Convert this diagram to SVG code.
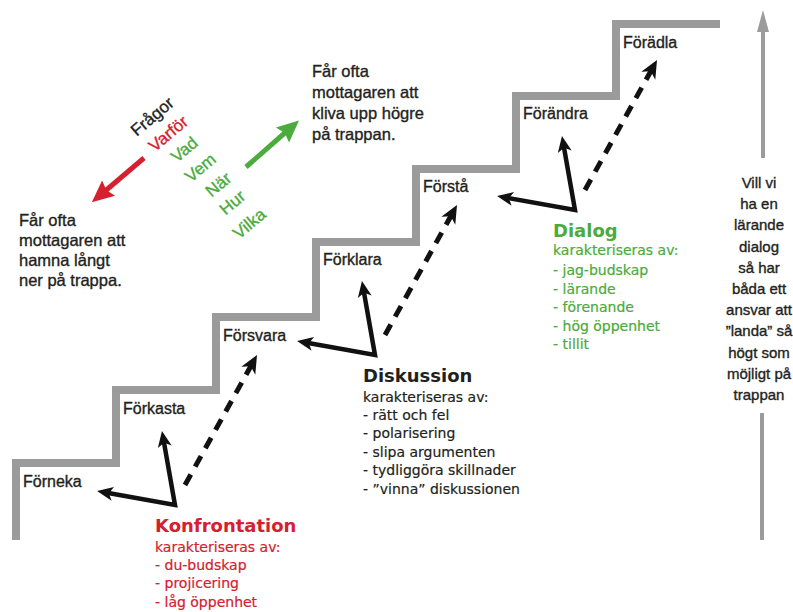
<svg xmlns="http://www.w3.org/2000/svg" width="793" height="612" viewBox="0 0 793 612">
<style>
.stair{fill:none;stroke:#9b9b9b;stroke-width:8;stroke-linejoin:miter}
.lbl{font-family:"Liberation Sans",Arial,sans-serif;font-size:16px;fill:#231f20;stroke:#231f20;stroke-width:0.35}
.desc{font-family:"Liberation Sans",Arial,sans-serif;font-size:16.5px;fill:#231f20;stroke:#231f20;stroke-width:0.35}
.side{font-family:"Liberation Sans",Arial,sans-serif;font-size:15px;fill:#231f20;stroke:#231f20;stroke-width:0.35;text-anchor:middle}
.q{font-family:"Liberation Sans",Arial,sans-serif;font-size:17px;text-anchor:middle;stroke-width:0.35}
.title{font-family:"DejaVu Sans",Verdana,sans-serif;font-size:18px;font-weight:bold}
.item{font-family:"DejaVu Sans",Verdana,sans-serif;font-size:14px;stroke-width:0.2}
.red{fill:#d5202f;stroke:#d5202f}.green{fill:#4bab3c;stroke:#4bab3c}.blk{fill:#231f20;stroke:#231f20}
.title.red,.title.green,.title.blk{stroke:none}
.sol{fill:none;stroke:#111;stroke-width:4.5;stroke-linejoin:miter;marker-start:url(#ah);marker-end:url(#ah)}
.dash{fill:none;stroke:#111;stroke-width:5;stroke-dasharray:12 9;marker-end:url(#ahd)}
</style>
<defs>
<marker id="ah" markerUnits="userSpaceOnUse" markerWidth="20" markerHeight="16" refX="6" refY="7" orient="auto-start-reverse" overflow="visible">
<path d="M0,0 L16,7 L0,14 L4,7 Z" fill="#111"/>
</marker>
<marker id="ahd" markerUnits="userSpaceOnUse" markerWidth="22" markerHeight="18" refX="6" refY="8" orient="auto" overflow="visible">
<path d="M0,0 L18,8 L0,16 L5,8 Z" fill="#111"/>
</marker>
<marker id="ahr" markerUnits="userSpaceOnUse" markerWidth="26" markerHeight="22" refX="6" refY="10" orient="auto" overflow="visible">
<path d="M0,0 L22,10 L0,20 L3,10 Z" fill="#d5202f"/>
</marker>
<marker id="ahg" markerUnits="userSpaceOnUse" markerWidth="26" markerHeight="22" refX="6" refY="10" orient="auto" overflow="visible">
<path d="M0,0 L22,10 L0,20 L3,10 Z" fill="#4bab3c"/>
</marker>
<marker id="ahgr" markerUnits="userSpaceOnUse" markerWidth="16" markerHeight="14" refX="4" refY="6" orient="auto" overflow="visible">
<path d="M0,0 L22,6 L0,12 Z" fill="#9b9b9b"/>
</marker>
</defs>
<rect width="793" height="612" fill="#fff"/>

<g id="staircase">
<path class="stair" d="M16,540 V463 H116 V390 H216 V317 H316 V242 H416 V169 H516 V96 H616 V24 H720"/>
</g>

<g id="steps">
<g id="step-forneka"><text class="lbl" x="23" y="487">Förneka</text></g>
<g id="step-forkasta"><text class="lbl" x="123" y="414">Förkasta</text></g>
<g id="step-forsvara"><text class="lbl" x="223" y="341">Försvara</text></g>
<g id="step-forklara"><text class="lbl" x="323" y="265">Förklara</text></g>
<g id="step-forsta"><text class="lbl" x="423" y="192">Förstå</text></g>
<g id="step-forandra"><text class="lbl" x="523" y="119">Förändra</text></g>
<g id="step-foradla"><text class="lbl" x="623" y="48">Förädla</text></g>
</g>

<g id="connectors">
<path class="sol" d="M163.7,440.9 L175,505 L106.9,492.8"/>
<path class="dash" d="M185,485 L251.2,365.5"/>
<path class="sol" d="M363.7,290.9 L375,355 L306.9,342.8"/>
<path class="dash" d="M385,335 L451.2,215.5"/>
<path class="sol" d="M563.7,145.9 L575,210 L506.9,197.8"/>
<path class="dash" d="M585,190 L651.2,70.5"/>
<line x1="144" y1="158" x2="104" y2="192" stroke="#d5202f" stroke-width="5" marker-end="url(#ahr)"/>
<line x1="246" y1="167" x2="287" y2="131" stroke="#4bab3c" stroke-width="5" marker-end="url(#ahg)"/>
<line x1="763" y1="158" x2="763" y2="28" stroke="#9b9b9b" stroke-width="4" marker-end="url(#ahgr)"/>
<line x1="762" y1="413" x2="762" y2="540" stroke="#9b9b9b" stroke-width="4"/>
</g>

<g id="questions">
<text class="q blk" transform="translate(156,121) rotate(-40)">Frågor</text>
<text class="q red" transform="translate(172,138) rotate(-40)">Varför</text>
<text class="q green" transform="translate(188,154) rotate(-40)">Vad</text>
<text class="q green" transform="translate(204,172) rotate(-40)">Vem</text>
<text class="q green" transform="translate(222,189) rotate(-40)">När</text>
<text class="q green" transform="translate(236,207) rotate(-40)">Hur</text>
<text class="q green" transform="translate(253,228) rotate(-40)">Vilka</text>
</g>

<g id="note-down">
<text class="desc"><tspan x="19" y="226">Får ofta</tspan><tspan x="19" y="246">mottagaren att</tspan><tspan x="19" y="266">hamna långt</tspan><tspan x="19" y="286">ner på trappa.</tspan></text>
</g>

<g id="note-up">
<text class="desc"><tspan x="312" y="77">Får ofta</tspan><tspan x="312" y="98">mottagaren att</tspan><tspan x="312" y="119">kliva upp högre</tspan><tspan x="312" y="140">på trappan.</tspan></text>
</g>

<g id="note-right">
<text class="side"><tspan x="759" y="188">Vill vi</tspan><tspan x="759" y="209">ha en</tspan><tspan x="759" y="230">lärande</tspan><tspan x="759" y="252">dialog</tspan><tspan x="759" y="273">så har</tspan><tspan x="759" y="294">båda ett</tspan><tspan x="759" y="315">ansvar att</tspan><tspan x="759" y="336">”landa” så</tspan><tspan x="759" y="358">högt som</tspan><tspan x="759" y="379">möjligt på</tspan><tspan x="759" y="400">trappan</tspan></text>
</g>

<g id="konfrontation">
<text class="title red" x="155" y="532">Konfrontation</text>
<text class="item red"><tspan x="155" y="552">karakteriseras av:</tspan><tspan x="155" y="570">- du-budskap</tspan><tspan x="155" y="588">- projicering</tspan><tspan x="155" y="607">- låg öppenhet</tspan></text>
</g>

<g id="diskussion">
<text class="title blk" x="363" y="382">Diskussion</text>
<text class="item blk"><tspan x="363" y="402">karakteriseras av:</tspan><tspan x="363" y="420">- rätt och fel</tspan><tspan x="363" y="438">- polarisering</tspan><tspan x="363" y="457">- slipa argumenten</tspan><tspan x="363" y="475">- tydliggöra skillnader</tspan><tspan x="363" y="494">- ”vinna” diskussionen</tspan></text>
</g>

<g id="dialog">
<text class="title green" x="553" y="237">Dialog</text>
<text class="item green"><tspan x="553" y="255">karakteriseras av:</tspan><tspan x="553" y="275">- jag-budskap</tspan><tspan x="553" y="294">- lärande</tspan><tspan x="553" y="312">- förenande</tspan><tspan x="553" y="331">- hög öppenhet</tspan><tspan x="553" y="349">- tillit</tspan></text>
</g>
</svg>
